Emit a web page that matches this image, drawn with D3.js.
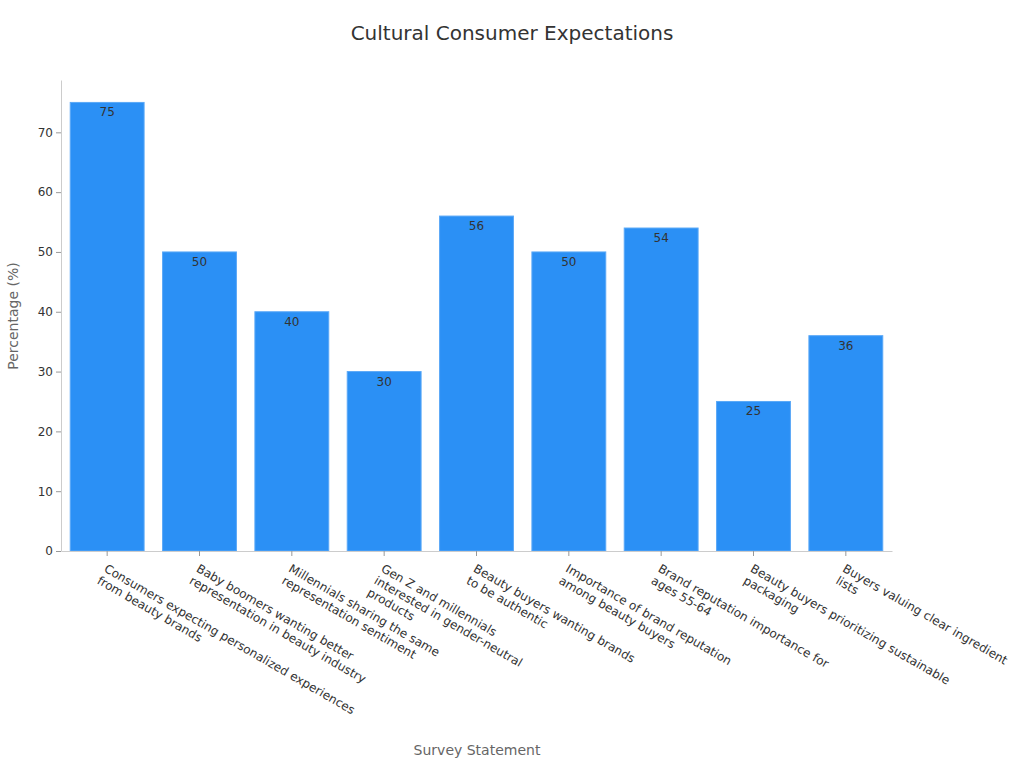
<!DOCTYPE html>
<html><head><meta charset="utf-8">
<script src="https://cdn.jsdelivr.net/npm/d3@7"></script>
<style>body{margin:0;background:#fff;font-family:"DejaVu Sans",sans-serif;}</style>
</head><body>
<svg width="1024" height="768"></svg>
<script>
const categories = [
  ["Consumers expecting personalized experiences", "from beauty brands"],
  ["Baby boomers wanting better", "representation in beauty industry"],
  ["Millennials sharing the same", "representation sentiment"],
  ["Gen Z and millennials", "interested in gender-neutral", "products"],
  ["Beauty buyers wanting brands", "to be authentic"],
  ["Importance of brand reputation", "among beauty buyers"],
  ["Brand reputation importance for", "ages 55-64"],
  ["Beauty buyers prioritizing sustainable", "packaging"],
  ["Buyers valuing clear ingredient", "lists"]
];
const values = [75, 50, 40, 30, 56, 50, 54, 25, 36];
const yTicks = [0, 10, 20, 30, 40, 50, 60, 70];

const svg = d3.select("svg");
const plotLeft = 61, plotRight = 892, plotTop = 80, plotBottom = 551;

const x = d3.scaleBand().domain(d3.range(values.length)).range([plotLeft, plotRight]).paddingInner(0.2).paddingOuter(0.1);
const y = d3.scaleLinear().domain([0, 78.75]).range([plotBottom, plotTop]);

svg.append("text").attr("x", 512).attr("y", 40).attr("text-anchor", "middle")
  .style("font-size", "20px").attr("fill", "#333").text("Cultural Consumer Expectations");

// y axis
const ya = svg.append("g").attr("transform", `translate(${plotLeft},0)`)
  .call(d3.axisLeft(y).tickValues(yTicks).tickSize(5).tickSizeOuter(0));
ya.select(".domain").attr("stroke", "#ccc");
ya.selectAll(".tick line").attr("stroke", "#999");
ya.selectAll("text").style("font-size", "12px").attr("fill", "#333").style("font-family", "DejaVu Sans");

// bars
svg.selectAll(".bar").data(values).join("rect")
  .attr("x", (d, i) => x(i)).attr("width", x.bandwidth())
  .attr("y", d => y(d)).attr("height", d => plotBottom - y(d))
  .attr("fill", "#2b90f5").attr("stroke", "#5aa8f7").attr("stroke-width", 1);

svg.selectAll(".lbl").data(values).join("text")
  .attr("x", (d, i) => x(i) + x.bandwidth() / 2).attr("y", d => y(d) + 14)
  .attr("text-anchor", "middle").style("font-size", "12px").attr("fill", "#333").text(d => d);

// x axis
const xa = svg.append("g").attr("transform", `translate(0,${plotBottom})`)
  .call(d3.axisBottom(x).tickSize(5).tickSizeOuter(0).tickFormat(""));
xa.select(".domain").attr("stroke", "#ccc");
xa.selectAll(".tick line").attr("stroke", "#999");

categories.forEach((lines, i) => {
  const cx = x(i) + x.bandwidth() / 2;
  const t = svg.append("text")
    .attr("transform", `translate(${cx - 4},${plotBottom + 20}) rotate(30)`)
    .style("font-size", "12px").attr("fill", "#333");
  lines.forEach((l, j) => t.append("tspan").attr("x", 0).attr("dy", j ? "1.15em" : 0).text(l));
});

svg.append("text").attr("x", 477).attr("y", 755).attr("text-anchor", "middle")
  .style("font-size", "14px").attr("fill", "#666").text("Survey Statement");
svg.append("text").attr("transform", "translate(18,316) rotate(-90)").attr("text-anchor", "middle")
  .style("font-size", "14px").attr("fill", "#666").text("Percentage (%)");
</script>
</body></html>
